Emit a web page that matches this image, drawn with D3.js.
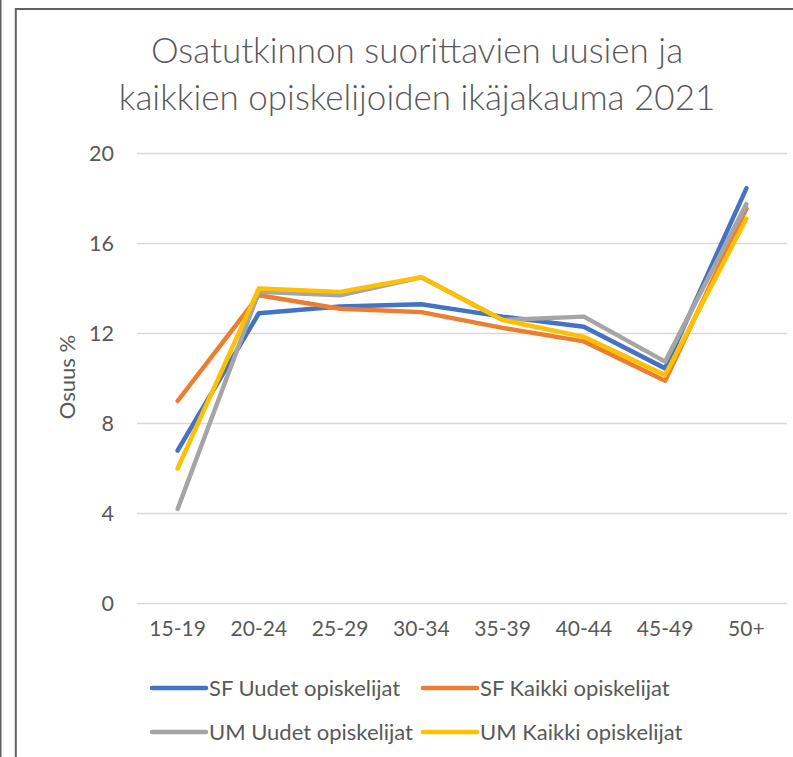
<!DOCTYPE html>
<html>
<head>
<meta charset="utf-8">
<script src="https://cdn.jsdelivr.net/npm/d3@7"></script>
<style>
  body { margin: 0; background: #fff; }
  svg { display: block; }
</style>
</head>
<body>
<svg id="svg" width="793" height="757"></svg>
<script>
    var font = "Lato, 'Open Sans', sans-serif";
    var textColor = "#595959";

    // age groups and shares (%)
    var ageGroups = ["15-19", "20-24", "25-29", "30-34", "35-39", "40-44", "45-49", "50+"];
    var sfUudet = [6.8, 12.9, 13.2, 13.3, 12.75, 12.3, 10.45, 18.45];
    var sfKaikki = [9.0, 13.7, 13.1, 12.95, 12.25, 11.65, 9.9, 17.55];
    var umUudet = [4.2, 13.85, 13.7, 14.5, 12.6, 12.75, 10.75, 17.75];
    var umKaikki = [6.0, 14.0, 13.85, 14.5, 12.6, 11.85, 10.15, 17.1];
    var yTicks = [0, 4, 8, 12, 16, 20];

    var seriesNames = ["SF Uudet opiskelijat", "SF Kaikki opiskelijat", "UM Uudet opiskelijat", "UM Kaikki opiskelijat"];
    var seriesValues = [sfUudet, sfKaikki, umUudet, umKaikki];
    var colors = ["#4472C4", "#ED7D31", "#A5A5A5", "#FFC000"];

    var svg = d3.select("#svg");

    // frame lines
    svg.append("line").attr("x1", 0.75).attr("x2", 0.75).attr("y1", 0).attr("y2", 757)
        .attr("stroke", "#606060").attr("stroke-width", 1.5);
    svg.append("line").attr("x1", 15.8).attr("x2", 15.8).attr("y1", 8).attr("y2", 757)
        .attr("stroke", "#606060").attr("stroke-width", 2);
    svg.append("line").attr("x1", 15).attr("x2", 793).attr("y1", 8.9).attr("y2", 8.9)
        .attr("stroke", "#606060").attr("stroke-width", 2);

    // title
    var title = svg.append("text")
        .attr("font-family", font)
        .attr("font-weight", 300)
        .attr("font-size", "35px")
        .attr("fill", textColor)
        .attr("text-anchor", "middle");
    title.append("tspan").attr("x", 417).attr("y", 63).text("Osatutkinnon suorittavien uusien ja");
    title.append("tspan").attr("x", 417).attr("y", 110).text("kaikkien opiskelijoiden ikäjakauma 2021");

    var x = d3.scaleBand().domain(ageGroups).range([137, 787]);
    var y = d3.scaleLinear().domain([0, 20]).range([603.5, 153.5]);

    // gridlines
    svg.append("g").selectAll("line")
        .data(yTicks)
        .enter()
        .append("line")
        .attr("x1", 137).attr("x2", 787)
        .attr("y1", function (d) { return y(d); })
        .attr("y2", function (d) { return y(d); })
        .attr("stroke", "#d9d9d9")
        .attr("stroke-width", 1.5);

    // y axis
    var yAxis = svg.append("g")
        .attr("transform", "translate(114,0)")
        .call(d3.axisLeft(y).tickValues(yTicks).tickSize(0).tickPadding(0));
    yAxis.select(".domain").remove();
    yAxis.selectAll("text")
        .attr("font-family", font)
        .attr("font-size", "21.5px")
        .attr("fill", textColor);

    // x axis
    var xAxis = svg.append("g")
        .attr("transform", "translate(0,621)")
        .call(d3.axisBottom(x).tickSize(0).tickPadding(0));
    xAxis.select(".domain").remove();
    xAxis.selectAll("text")
        .attr("font-family", font)
        .attr("font-size", "21px")
        .attr("fill", textColor);

    // y axis title
    svg.append("text")
        .attr("transform", "translate(75,377) rotate(-90)")
        .attr("text-anchor", "middle")
        .attr("font-family", font)
        .attr("font-size", "22px")
        .attr("fill", textColor)
        .text("Osuus %");

    // lines
    var line = d3.line()
        .x(function (d, i) { return x(ageGroups[i]) + x.bandwidth() / 2; })
        .y(function (d) { return y(d); });

    svg.append("g").selectAll("path")
        .data(seriesValues)
        .enter()
        .append("path")
        .attr("d", line)
        .attr("fill", "none")
        .attr("stroke", function (d, i) { return colors[i]; })
        .attr("stroke-width", 4.5)
        .attr("stroke-linecap", "round")
        .attr("stroke-linejoin", "round");

    // legend
    var legendPos = [[152, 688], [423, 688], [152, 732], [423, 732]];
    var legend = svg.append("g").selectAll("g")
        .data(seriesNames)
        .enter()
        .append("g")
        .attr("transform", function (d, i) { return "translate(" + legendPos[i][0] + "," + legendPos[i][1] + ")"; });
    legend.append("line")
        .attr("x1", 0).attr("x2", 54).attr("y1", 0).attr("y2", 0)
        .attr("stroke", function (d, i) { return colors[i]; })
        .attr("stroke-width", 4.5)
        .attr("stroke-linecap", "round");
    legend.append("text")
        .attr("x", 57)
        .attr("y", 0)
        .attr("dy", "0.35em")
        .attr("font-family", font)
        .attr("font-size", "22px")
        .attr("fill", textColor)
        .text(function (d) { return d; });
</script>
</body>
</html>
